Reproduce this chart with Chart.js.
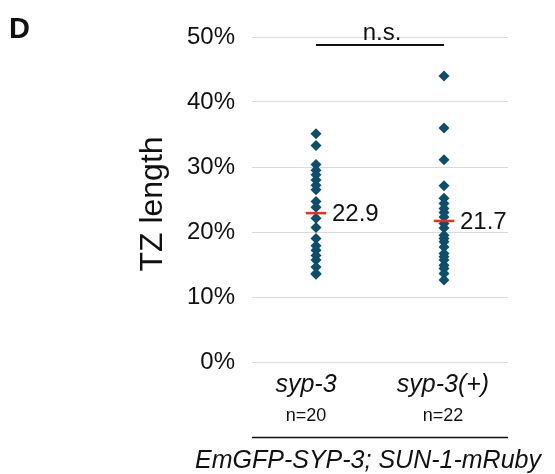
<!DOCTYPE html>
<html>
<head>
<meta charset="utf-8">
<script src="https://cdn.jsdelivr.net/npm/chart.js@4/dist/chart.umd.min.js"></script>
<style>
  html, body { margin: 0; padding: 0; background: #fff; }
  #wrap { width: 555px; height: 474px; }
</style>
</head>
<body>
<div id="wrap"><canvas id="chart"></canvas></div>
<script>
const categories = ['syp-3', 'syp-3(+)'];
const sampleSizes = ['n=20', 'n=22'];
const syp3Values = [35.1, 33.3, 30.4, 29.5, 28.8, 28.0, 27.2, 26.5, 24.7, 23.8,
  22.1, 20.7, 19.0, 17.9, 17.2, 16.4, 15.7, 14.6, 13.6, 13.5];
const syp3PlusValues = [44.0, 36.0, 31.1, 27.1, 25.2, 24.4, 23.6, 23.0, 22.3, 21.3, 20.6,
  19.5, 19.0, 18.5, 17.7, 16.7, 16.2, 15.7, 14.9, 14.4, 13.6, 12.6];
const means = [22.9, 21.7];
const yTicks = [0, 10, 20, 30, 40, 50];
const significance = 'n.s.';
const groupLabel = 'EmGFP-SYP-3; SUN-1-mRuby';

const FONT = '"Liberation Sans", Arial, Helvetica, sans-serif';
const DOT_COLOR = '#0b4f6c';
const MEAN_COLOR = '#e8301c';

const chartCanvas = document.querySelector('#chart');

function toPoints(values, pos) {
  return values.map(v => ({ x: pos, y: v }));
}

function meanLine(mean, pos) {
  return [{ x: pos - 0.08, y: mean }, { x: pos + 0.08, y: mean }];
}

// labels, n.s. bar and panel letter drawn around the plot area
const decorations = {
  id: 'decorations',
  afterDraw(chart) {
    const ctx = chart.ctx;
    const xs = chart.scales.x;
    const ys = chart.scales.y;
    const area = chart.chartArea;
    ctx.save();
    ctx.fillStyle = '#111';
    ctx.strokeStyle = '#111';

    // panel letter
    ctx.font = 'bold 29px ' + FONT;
    ctx.textAlign = 'left';
    ctx.textBaseline = 'alphabetic';
    ctx.fillText('D', 9, 38);

    // y title
    ctx.save();
    ctx.translate(153, 204);
    ctx.rotate(-Math.PI / 2);
    ctx.font = '32px ' + FONT;
    ctx.textAlign = 'center';
    ctx.textBaseline = 'middle';
    ctx.fillText('TZ length', 0, 0);
    ctx.restore();

    // mean values
    ctx.font = '24px ' + FONT;
    ctx.textAlign = 'left';
    ctx.textBaseline = 'middle';
    means.forEach((m, i) => {
      ctx.fillText(m.toFixed(1), xs.getPixelForValue(i + 0.5) + 16, ys.getPixelForValue(m) + 1);
    });

    // significance bar
    const x1 = xs.getPixelForValue(0.5);
    const x2 = xs.getPixelForValue(1.5);
    ctx.lineWidth = 2;
    ctx.beginPath();
    ctx.moveTo(x1, 45);
    ctx.lineTo(x2, 45);
    ctx.stroke();
    ctx.font = '24px ' + FONT;
    ctx.textAlign = 'center';
    ctx.textBaseline = 'alphabetic';
    ctx.fillText(significance, (x1 + x2) / 2 + 2, 40);

    // category labels and sample sizes
    const labelX = [306, 443];
    categories.forEach((c, i) => {
      ctx.font = 'italic 25px ' + FONT;
      ctx.fillText(c, labelX[i], 392);
      ctx.font = '18px ' + FONT;
      ctx.fillText(sampleSizes[i], labelX[i], 421);
    });

    // group line and label
    ctx.lineWidth = 1.5;
    ctx.beginPath();
    ctx.moveTo(area.left, 437.5);
    ctx.lineTo(area.right, 437.5);
    ctx.stroke();
    ctx.font = 'italic 25px ' + FONT;
    ctx.fillText(groupLabel, 368, 468);

    ctx.restore();
  }
};

const chart = new Chart(chartCanvas, {
  type: 'scatter',
  data: {
    datasets: [
      {
        data: meanLine(means[0], 0.5), showLine: true, borderColor: MEAN_COLOR,
        borderWidth: 2.5, pointRadius: 0, order: 0
      },
      {
        data: meanLine(means[1], 1.5), showLine: true, borderColor: MEAN_COLOR,
        borderWidth: 2.5, pointRadius: 0, order: 0
      },
      {
        data: toPoints(syp3Values, 0.5), pointStyle: 'rectRot', pointRadius: 5.5,
        backgroundColor: DOT_COLOR, borderColor: DOT_COLOR, borderWidth: 0, order: 1
      },
      {
        data: toPoints(syp3PlusValues, 1.5), pointStyle: 'rectRot', pointRadius: 5.5,
        backgroundColor: DOT_COLOR, borderColor: DOT_COLOR, borderWidth: 0, order: 1
      }
    ]
  },
  options: {
    responsive: true,
    maintainAspectRatio: false,
    animation: false,
    layout: { padding: { left: 0, right: 47, top: 37, bottom: 112 } },
    plugins: { legend: { display: false }, tooltip: { enabled: false } },
    scales: {
      x: { type: 'linear', min: 0, max: 2, display: false },
      y: {
        min: 0,
        max: 50,
        afterFit(scale) { scale.width = 252; },
        afterBuildTicks(scale) { scale.ticks = yTicks.map(v => ({ value: v })); },
        border: { display: false },
        grid: { color: '#d9d9d9', lineWidth: 1, drawTicks: false },
        ticks: {
          padding: 17,
          color: '#111',
          font: { family: FONT, size: 24 },
          callback: v => v + '%'
        }
      }
    }
  },
  plugins: [decorations]
});
</script>
</body>
</html>
